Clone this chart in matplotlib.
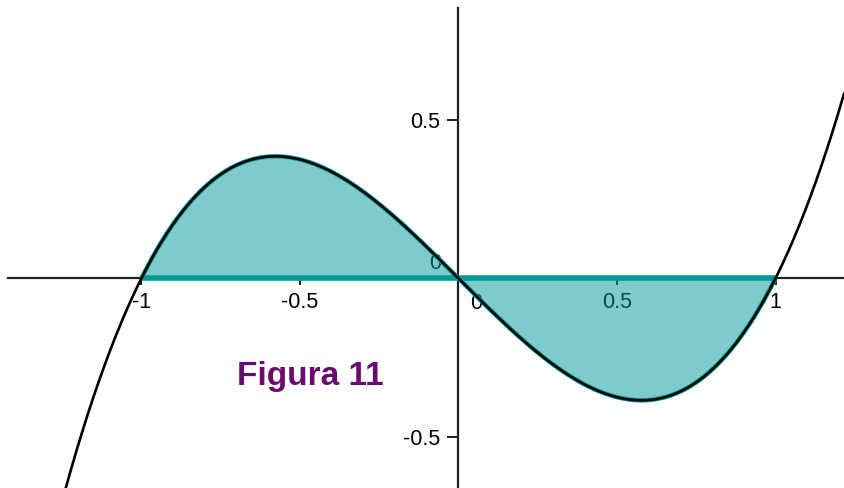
import numpy as np
import matplotlib
matplotlib.use("Agg")
import matplotlib.pyplot as plt

plt.rcParams['font.family'] = ['Liberation Sans', 'DejaVu Sans']

# f(x) = x^3 - x, polynomial coefficients (highest degree first)
coeffs = [1.0, 0.0, -1.0, 0.0]
roots = [-1.0, 0.0, 1.0]
x_ticks = [-1.0, -0.5, 0.5, 1.0]
x_tick_labels = ["-1", "-0.5", "0.5", "1"]
y_ticks = [-0.5, 0.5]
y_tick_labels = ["-0.5", "0.5"]
title_text = "Figura 11"

x_min, x_max = -1.446, 1.216
y_min, y_max = -0.6615, 0.878

teal = "#009999"
purple = "#6a0a6e"

fig = plt.figure(figsize=(8.44, 4.88), dpi=100)
ax = fig.add_axes([0, 0, 1, 1])
ax.set_xlim(x_min, x_max)
ax.set_ylim(y_min, y_max)

# axes through the origin
for side in ("top", "right"):
    ax.spines[side].set_visible(False)
ax.spines["left"].set_position(("data", 0))
ax.spines["bottom"].set_position(("data", 0))
for side in ("left", "bottom"):
    ax.spines[side].set_color("#222222")
    ax.spines[side].set_linewidth(1.6)
    ax.spines[side].set_zorder(2)
ax.spines["bottom"].set_bounds(-1.42, x_max)
ax.spines["left"].set_bounds(y_min, 0.853)

ax.set_xticks(x_ticks)
ax.set_xticklabels(x_tick_labels)
ax.set_yticks(y_ticks)
ax.set_yticklabels(y_tick_labels)
ax.tick_params(axis="x", direction="out", length=5, width=1.4, color="#222222",
               labelsize=15.5, pad=5)
ax.tick_params(axis="y", direction="out", length=8, width=1.4, color="#222222",
               labelsize=15.5, pad=5)

# labels for the origin
ax.text(0.057, -0.08, "0", fontsize=15.5, ha="center", va="center", zorder=1)
ax.text(-0.072, 0.047, "0", fontsize=15.5, ha="center", va="center", zorder=1)

# shaded area between the curve and the x axis, from the first to the last root
poly = np.poly1d(coeffs)
xs_fill = np.linspace(roots[0], roots[-1], 600)
ys_fill = poly(xs_fill)
ax.fill_between(xs_fill, ys_fill, 0, facecolor=(0.0, 0.6, 0.6, 0.5),
                edgecolor="none", zorder=3)
ax.plot(xs_fill, ys_fill, color=teal, lw=3.2, zorder=3.5, solid_capstyle="butt")
ax.hlines(0, roots[0], roots[-1], colors=teal, lw=4.0, zorder=3.6)

# the curve
xs = np.linspace(x_min, x_max, 1200)
ax.plot(xs, poly(xs), color="black", lw=1.9, zorder=4)

ax.text(-0.468, -0.31, title_text, fontsize=24, fontweight="bold",
        color=purple, ha="center", va="center", zorder=5)

fig.savefig("out.png", dpi=100)
